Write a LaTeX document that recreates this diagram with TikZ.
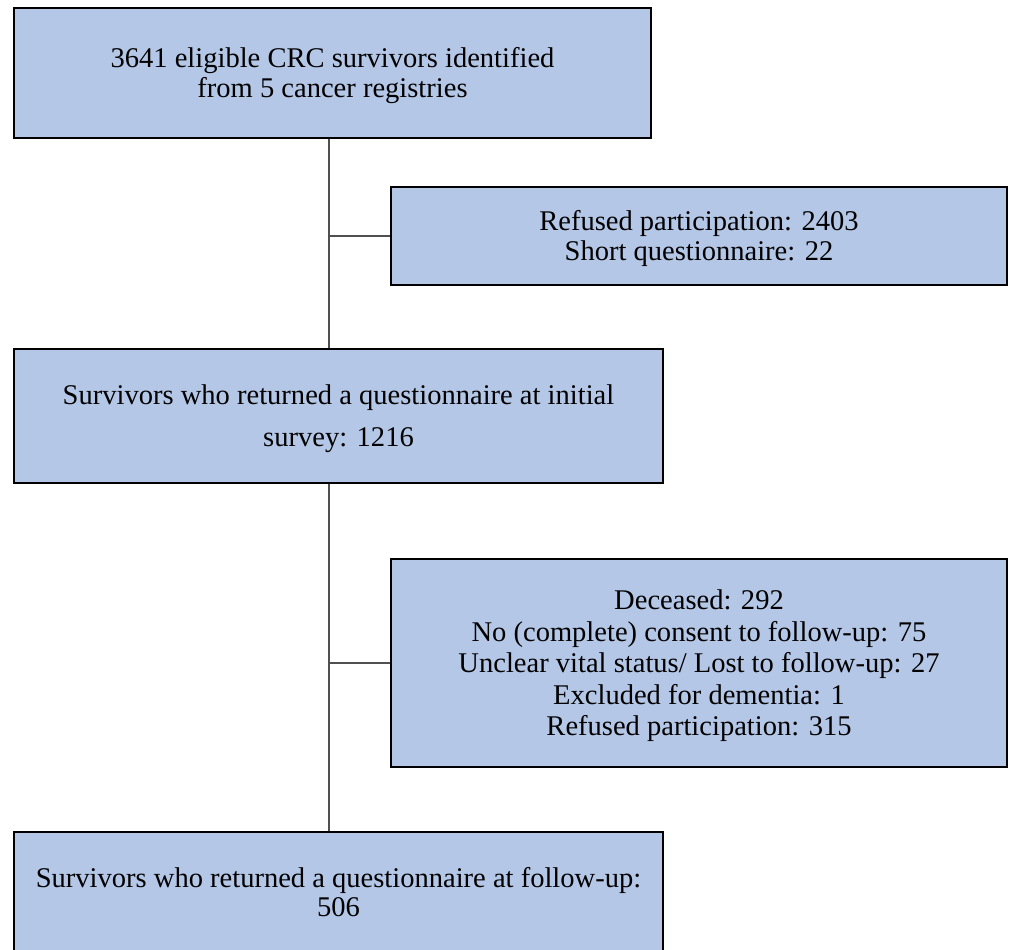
\documentclass[tikz,border=0pt]{standalone}
\usepackage{fontspec}
\setmainfont{Liberation Serif}
\definecolor{boxfill}{HTML}{B4C7E7}
\definecolor{linegray}{HTML}{505050}
\newcommand{\topstrut}{\rule{0pt}{19pt}}
\begin{document}
\begin{tikzpicture}[x=0.75pt,y=-0.75pt,
  box/.style={draw=black, line width=1.5pt, fill=boxfill, align=center, inner sep=0pt,
    font=\fontsize{21.4}{22.5}\selectfont},
  conn/.style={draw=linegray, line width=1.1pt}]
\useasboundingbox (0,0) rectangle (1009,949);
\clip (0,0) rectangle (1009,949);
\node[box, minimum width=637*0.75pt, minimum height=130*0.75pt] (b1) at (332.5,73)
  {\topstrut 3641 eligible CRC survivors identified\\from 5 cancer registries};
\node[box, minimum width=616*0.75pt, minimum height=98*0.75pt] (b2) at (699,236)
  {\topstrut Refused participation: 2403\\Short questionnaire: 22};
\node[box, minimum width=649*0.75pt, minimum height=134*0.75pt,
  font=\fontsize{21.4}{31.5}\selectfont] (b3) at (338.5,416)
  {\topstrut Survivors who returned a questionnaire at initial\\survey: 1216};
\node[box, minimum width=616*0.75pt, minimum height=208*0.75pt,
  font=\fontsize{21.4}{23.6}\selectfont] (b4) at (699,663)
  {\topstrut Deceased: 292\\No (complete) consent to follow-up: 75\\Unclear vital status/ Lost to follow-up: 27\\Excluded for dementia: 1\\Refused participation: 315};
\node[box, minimum width=649*0.75pt, minimum height=120*0.75pt,
  font=\fontsize{21.4}{21.8}\selectfont] (b5) at (338.5,892)
  {Survivors who returned a questionnaire at follow-up:\\506};
\coordinate (t) at (329,0);
\draw[conn] (b1.south -| t) -- (b3.north -| t);
\draw[conn] (b3.south -| t) -- (b5.north -| t);
\draw[conn] (b2.west -| t) -- (b2.west);
\draw[conn] (b4.west -| t) -- (b4.west);
\end{tikzpicture}
\end{document}
